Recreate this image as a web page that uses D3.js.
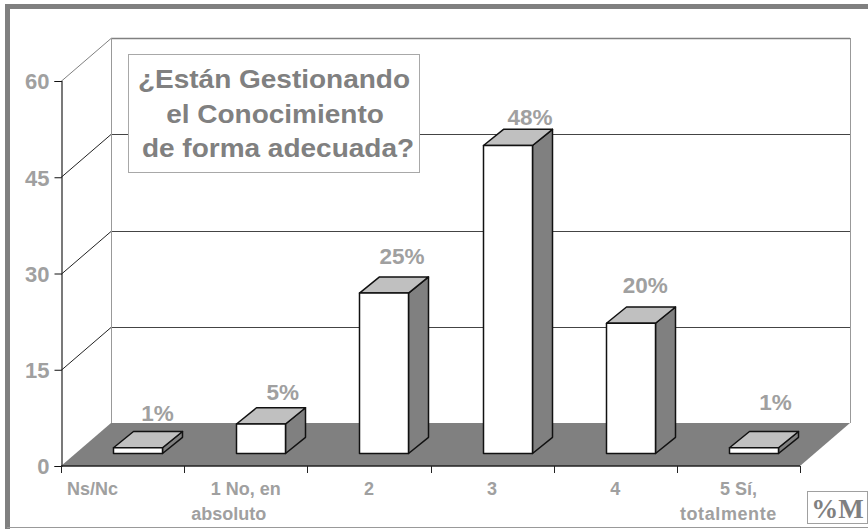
<!DOCTYPE html>
<html><head><meta charset="utf-8">
<script src="https://cdn.jsdelivr.net/npm/d3@7"></script>
<style>html,body{margin:0;padding:0;background:#fff}svg{display:block}text{font-family:"Liberation Sans",Arial,sans-serif;font-weight:bold}</style>
</head><body><svg id="c" width="868" height="529"></svg>
<script>
const categories = ["Ns/Nc","1 No, en|absoluto","2","3","4","5 Sí,|totalmente"];
const values = [0.9,4.6,25,48,20.3,0.9];
const valueLabels = ["1%","5%","25%","48%","20%","1%"];
const ticks = [0,15,30,45,60];
const titleLines = ["¿Están Gestionando","el Conocimiento","de forma adecuada?"];

const svg = d3.select("#c");
const x = d3.scaleBand().domain(d3.range(categories.length)).range([61,800]).paddingInner(0).paddingOuter(0);
const y = d3.scaleLinear().domain([0,60]).range([466,81]);
const depthX = 50, depthY = 43;
const line = d3.line();

// outer frame
svg.append("path").attr("d","M7.5,529V6.5H868").attr("fill","none").attr("stroke","#808080").attr("stroke-width",5);
svg.append("line").attr("x1",7).attr("x2",868).attr("y1",527.5).attr("y2",527.5).attr("stroke","#999");

// back wall + floor
svg.append("path").attr("d",line([[x.range()[0]+depthX,y(0)-depthY],[x.range()[1]+depthX,y(0)-depthY],[x.range()[1],y(0)],[x.range()[0],y(0)]])).attr("fill","#808080");
ticks.forEach(t=>{
  const yy = Math.round(y(t))+.5;
  const c = t===60 ? "#808080" : "#444";
  if(t>0){
    svg.append("line").attr("x1",61).attr("y1",yy).attr("x2",61+depthX).attr("y2",yy-depthY).attr("stroke",t===60?"#808080":"#222");
    svg.append("line").attr("x1",61+depthX).attr("x2",800+depthX).attr("y1",yy-depthY).attr("y2",yy-depthY).attr("stroke",c).attr("stroke-width",t===60?1.5:1);
  }
});
[61+depthX,800+depthX].forEach(v=>svg.append("line").attr("x1",v+.5).attr("x2",v+.5).attr("y1",y(60)-depthY).attr("y2",y(0)-depthY).attr("stroke","#999"));

// y axis
const yAxis = svg.append("g").attr("transform","translate(61.5,0)").call(d3.axisLeft(y).tickValues(ticks).tickSize(7).tickPadding(5));
yAxis.select(".domain").attr("stroke","#222").attr("stroke-width",1.2);
yAxis.selectAll("line").attr("stroke","#111");
yAxis.selectAll("text").attr("fill","#a0a0a0").style("font-size","22px").style("font-family",'"Liberation Sans"').style("font-weight","bold").attr("dy","0.36em");

// x axis
const xAxis = svg.append("g");
xAxis.append("line").attr("x1",61).attr("x2",800).attr("y1",466).attr("y2",466).attr("stroke","#222").attr("stroke-width",1.6);
d3.range(categories.length+1).forEach(i=>{
  const p = i<categories.length ? x(i) : x.range()[1];
  xAxis.append("line").attr("x1",Math.round(p)+.5).attr("x2",Math.round(p)+.5).attr("y1",466).attr("y2",473).attr("stroke","#222");
});
const firstDx = [-30,0,0,0,0,0], secondDx = [0,-17,0,0,0,-10];
categories.forEach((c,i)=>{
  c.split("|").forEach((t,j)=>{
    xAxis.append("text").attr("x",x(i)+x.bandwidth()/2+(j?secondDx[i]:firstDx[i])).attr("y",495+j*25)
      .attr("text-anchor","middle").attr("fill","#a0a0a0").style("font-size","18px").style("letter-spacing",t==="totalmente"?"0.6px":"0").text(t);
  });
});

// bars
const barW = 49, fT = 0.3, bT = 0.7;
const bars = svg.append("g").selectAll("g").data(values).join("g");
bars.each(function(v,i){
  const g = d3.select(this);
  const cx = x(i)+x.bandwidth()/2 + depthX*0.3;
  const l = Math.round(cx-barW/2)+.5, r = l+barW;
  const b = Math.round(y(0)-depthY*fT)+.5;
  const t = b-(y(0)-y(v));
  const dx = depthX*(bT-fT), dy = depthY*(bT-fT)-1;
  const st = s=>s.attr("stroke","#111").attr("stroke-width",1.5).attr("stroke-linejoin","round");
  st(g.append("path").attr("d",line([[r,b],[r+dx,b-dy],[r+dx,t-dy],[r,t]])+"Z").attr("fill","#808080"));
  st(g.append("path").attr("d",line([[l,t],[l+dx,t-dy],[r+dx,t-dy],[r,t]])+"Z").attr("fill","#c0c0c0"));
  st(g.append("rect").attr("x",l).attr("y",t).attr("width",barW).attr("height",b-t).attr("fill","#fff"));
});
const labelOffset = [[35,-26.5],[37,-24],[33,-29],[38,-20],[30,-30],[37,-37]];
valueLabels.forEach((s,i)=>{
  const t = y(0)-depthY*fT-(y(0)-y(values[i]));
  svg.append("text").attr("x",x(i)+x.bandwidth()/2+labelOffset[i][0]).attr("y",t+labelOffset[i][1])
   .attr("text-anchor","middle").attr("fill","#a0a0a0").style("font-size","22.5px").text(s);
});

// title box
svg.append("rect").attr("x",128.5).attr("y",54.5).attr("width",291).attr("height",118).attr("fill","#fff").attr("stroke","#a8a8a8");
const titleX=[274,275,278], titleY=[88,123,157];
titleLines.forEach((s,i)=>svg.append("text").attr("transform",`translate(${titleX[i]},${titleY[i]}) scale(1.12,1)`).attr("text-anchor","middle").attr("fill","#808080").style("font-size","25px").text(s));

// %M
svg.append("rect").attr("x",807.5).attr("y",491.5).attr("width",60).attr("height",32).attr("fill","#fff").attr("stroke","#a0a0a0");
svg.append("text").attr("x",837.5).attr("y",518).attr("text-anchor","middle").attr("fill","#808080").style("font-family",'"Liberation Serif",serif').style("font-size","27px").text("%M");
</script></body></html>
